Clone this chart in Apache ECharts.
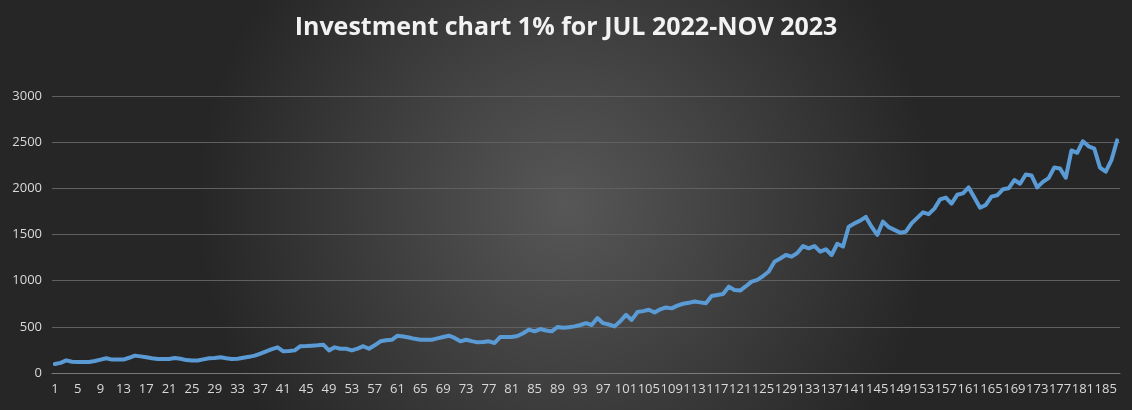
<!DOCTYPE html>
<html><head><meta charset="utf-8">
<script src="https://cdn.jsdelivr.net/npm/echarts@6/dist/echarts.min.js"></script>
<style>html,body{margin:0;padding:0;background:#333}#c{width:1132px;height:410px}</style>
</head><body><div id="c"></div>
<script>
const titleText = 'Investment chart 1% for JUL 2022-NOV 2023';
const values = [
97,110,137,122,120,120,120,130,145,160,
145,145,145,165,188,180,170,160,152,152,
152,162,155,140,135,135,148,160,162,170,
160,152,155,165,175,188,210,235,258,278,
235,238,245,290,292,296,300,307,245,278,
263,263,245,265,290,263,300,343,355,360,
404,395,385,370,360,360,360,375,390,404,
380,343,360,345,332,335,343,325,390,390,
390,400,430,470,451,476,460,451,498,490,
495,505,520,540,520,595,540,525,505,560,
630,575,660,670,685,655,690,710,700,730,
750,760,775,765,755,835,845,855,935,900,
893,940,990,1008,1050,1100,1205,1240,1278,1260,
1300,1375,1350,1375,1315,1340,1278,1400,1370,1585,
1620,1650,1690,1585,1495,1640,1580,1550,1520,1530,
1620,1680,1740,1720,1780,1880,1900,1835,1930,1945,
2010,1900,1790,1820,1910,1925,1990,2000,2090,2050,
2150,2140,2010,2070,2110,2225,2215,2115,2410,2385,
2510,2455,2430,2225,2180,2305,2520
];
const categories = values.map((v, i) => String(i + 1));
const chart = echarts.init(document.getElementById('c'));
chart.setOption({
  backgroundColor: {type:'radial', x:0.5, y:0.5, r:0.9,
    colorStops:[{offset:0,color:'#575757'},{offset:1,color:'#262626'}]},
  title: {text:titleText, left:'center', top:10,
    textStyle:{color:'#f2f2f2', fontSize:25, fontWeight:'bold', fontFamily:'Open Sans'}},
  grid: {left:52, right:12, top:96, bottom:37},
  xAxis: {type:'category', data:categories, boundaryGap:true,
    axisLine:{lineStyle:{color:'#7a7a7a'}}, axisTick:{show:false},
    axisLabel:{interval:3, color:'#d9d9d9', fontSize:13, margin:10, fontFamily:'Open Sans'}},
  yAxis: {type:'value', min:0, max:3000, interval:500,
    axisLine:{show:false}, axisTick:{show:false},
    splitLine:{lineStyle:{color:'#606060'}},
    axisLabel:{color:'#d9d9d9', fontSize:13, margin:10, fontFamily:'Open Sans', formatter: v => String(v)}},
  series: [{type:'line', data:values, symbol:'none', smooth:false,
    lineStyle:{color:'#5b9bd5', width:4, join:'round', cap:'round'}}]
});
</script></body></html>
